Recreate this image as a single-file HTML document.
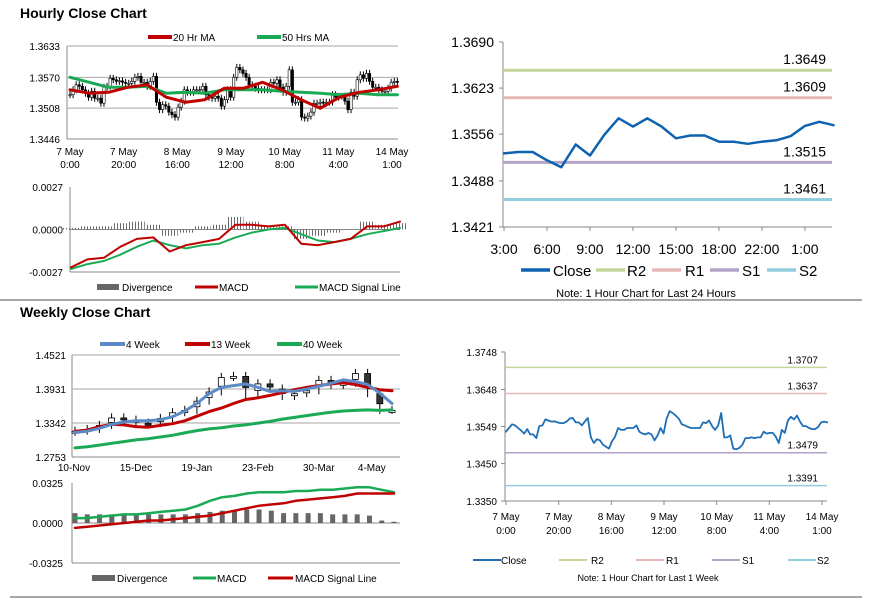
<!DOCTYPE html>
<html><head><meta charset="utf-8">
<style>
html,body{margin:0;padding:0;background:#fff;}
svg{display:block;font-family:"Liberation Sans",Arial,sans-serif;}
</style></head>
<body>
<svg id="root" width="873" height="601" viewBox="0 0 873 601" xmlns="http://www.w3.org/2000/svg">
<defs>
<pattern id="hatch" width="3" height="4" patternUnits="userSpaceOnUse">
<rect x="0" y="0" width="1" height="4" fill="#6a6a6a"/>
</pattern>
</defs>
<rect x="0" y="0" width="873" height="601" fill="#fff"/>
<line x1="0" y1="300" x2="862" y2="300" stroke="#8a8a8a" stroke-width="1.5"/>
<line x1="10" y1="597" x2="862" y2="597" stroke="#8a8a8a" stroke-width="1.5"/>
<text x="20" y="18" font-size="14" font-weight="bold">Hourly Close Chart</text>
<text x="20" y="317" font-size="14" font-weight="bold">Weekly Close Chart</text>
</svg>
<script>
// ---------- DATA ----------
const hourlyClose = [1.3535,1.3545,1.3555,1.3552,1.3545,1.3538,1.3530,1.3542,1.3528,1.3528,1.3518,1.3550,1.3552,1.3568,1.3565,1.3562,1.3563,1.3560,1.3558,1.3558,1.3562,1.3570,1.3572,1.3560,1.3560,1.3552,1.3562,1.3572,1.3520,1.3505,1.3515,1.3512,1.3500,1.3495,1.3490,1.3510,1.3522,1.3545,1.3540,1.3540,1.3545,1.3545,1.3545,1.3552,1.3535,1.3530,1.3528,1.3532,1.3528,1.3512,1.3525,1.3545,1.3530,1.3570,1.3590,1.3585,1.3578,1.3570,1.3555,1.3552,1.3548,1.3545,1.3545,1.3545,1.3545,1.3560,1.3558,1.3565,1.3550,1.3540,1.3552,1.3585,1.3520,1.3520,1.3525,1.3490,1.3488,1.3492,1.3500,1.3518,1.3518,1.3520,1.3518,1.3520,1.3520,1.3535,1.3530,1.3532,1.3532,1.3522,1.3505,1.3540,1.3532,1.3565,1.3575,1.3568,1.3578,1.3562,1.3550,1.3550,1.3545,1.3542,1.3542,1.3548,1.3560,1.3562,1.3560];
const ma20 = [1.3545,1.3538,1.3540,1.3550,1.3555,1.3530,1.3520,1.3525,1.3548,1.3548,1.3560,1.3545,1.3525,1.3508,1.3530,1.3540,1.3545,1.3552];
const ma50 = [1.3570,1.3560,1.3550,1.3550,1.3552,1.3538,1.3540,1.3538,1.3545,1.3545,1.3545,1.3542,1.3540,1.3538,1.3535,1.3538,1.3535,1.3535];
const hMacd = [-0.0024,-0.0019,-0.0018,-0.0011,-0.0006,-0.0005,-0.0014,-0.0010,-0.0008,-0.0006,0.0003,0.0003,0.0002,0.0003,-0.0009,-0.0010,-0.0008,-0.0006,0.0002,0.0002,0.0005];
const hSignal = [-0.0025,-0.0022,-0.0020,-0.0016,-0.0011,-0.0007,-0.0010,-0.0012,-0.0010,-0.0009,-0.0005,-0.0002,0.0000,0.0001,-0.0003,-0.0007,-0.0008,-0.0006,-0.0003,-0.0001,0.0001];
const hDiv = [0.0001,0.0002,0.0002,0.0004,0.0005,0.0003,-0.0004,-0.0002,0.0002,0.0003,0.0008,0.0005,0.0002,0.0002,-0.0006,-0.0004,-0.0002,0.0000,0.0005,0.0003,0.0004];
const hourTickLabels = [["7 May","0:00"],["7 May","20:00"],["8 May","16:00"],["9 May","12:00"],["10 May","8:00"],["11 May","4:00"],["14 May","1:00"]];
const hourTickHours = [0,20,40,60,80,100,120];
const hourYTicks = [1.3633,1.3570,1.3508,1.3446];

const dayClose = [1.3528,1.3530,1.3530,1.3518,1.3508,1.3541,1.3525,1.3555,1.3579,1.3567,1.3579,1.3567,1.3550,1.3554,1.3554,1.3545,1.3545,1.3542,1.3545,1.3547,1.3553,1.3568,1.3574,1.3569];
const dayTickLabels = ["3:00","6:00","9:00","12:00","15:00","18:00","22:00","1:00"];
const dayYTicks = [1.3690,1.3623,1.3556,1.3488,1.3421];
const dayLevels = [1.3649,1.3609,1.3515,1.3461];
const weekLevels = [1.3707,1.3637,1.3479,1.3391];
const levelNames = ["R2","R1","S1","S2"];
const weekYTicksR = [1.3748,1.3648,1.3549,1.3450,1.3350];

const wClose = [1.3200,1.3230,1.3300,1.3430,1.3390,1.3340,1.3330,1.3420,1.3520,1.3560,1.3720,1.3880,1.4130,1.4150,1.3830,1.4020,1.3930,1.3800,1.3850,1.3900,1.4080,1.3990,1.4030,1.4200,1.3850,1.3560,1.3560];
const w4 = [1.318,1.320,1.325,1.332,1.336,1.338,1.338,1.340,1.345,1.355,1.368,1.385,1.396,1.399,1.402,1.396,1.389,1.390,1.389,1.393,1.398,1.403,1.409,1.406,1.401,1.386,1.368];
const w13 = [1.320,1.322,1.328,1.332,1.331,1.328,1.327,1.330,1.333,1.338,1.346,1.354,1.360,1.368,1.375,1.378,1.382,1.387,1.392,1.396,1.399,1.402,1.404,1.401,1.396,1.392,1.390];
const w40 = [1.291,1.293,1.296,1.299,1.302,1.305,1.307,1.310,1.313,1.317,1.321,1.324,1.326,1.329,1.331,1.334,1.337,1.341,1.344,1.347,1.350,1.353,1.355,1.356,1.357,1.356,1.357];
const wMacd = [0.004,0.004,0.005,0.006,0.007,0.007,0.008,0.009,0.010,0.011,0.014,0.018,0.021,0.022,0.024,0.025,0.025,0.025,0.026,0.026,0.027,0.027,0.028,0.029,0.029,0.027,0.025];
const wSignal = [-0.004,-0.003,-0.002,-0.001,0.000,0.001,0.002,0.002,0.003,0.004,0.005,0.006,0.008,0.010,0.012,0.014,0.015,0.016,0.018,0.019,0.020,0.021,0.022,0.024,0.024,0.024,0.024];
const wDiv = [0.008,0.007,0.007,0.007,0.007,0.007,0.007,0.007,0.007,0.007,0.008,0.009,0.010,0.010,0.011,0.011,0.010,0.008,0.008,0.008,0.008,0.007,0.007,0.007,0.006,0.002,0.001];
const weekTickLabels = ["10-Nov","15-Dec","19-Jan","23-Feb","30-Mar","4-May"];
const weekTickIdx = [0,5,10,15,20,25];
const weekYTicks = [1.4521,1.3931,1.3342,1.2753];

// ---------- HELPERS ----------
const NS = "http://www.w3.org/2000/svg";
const root = document.getElementById('root');
function mk(tag, attrs, parent){
  const e = document.createElementNS(NS, tag);
  for (const k in attrs) e.setAttribute(k, attrs[k]);
  (parent||root).appendChild(e);
  return e;
}
function txt(x,y,s,size,anchor,parent){
  const t = mk('text',{x:x,y:y,'font-size':size||11,'text-anchor':anchor||'start',fill:'#000'},parent);
  t.textContent = s; return t;
}
function lin(d0,d1,r0,r1){ return v => r0 + (v-d0)/(d1-d0)*(r1-r0); }
function polyline(pts, color, w, parent){
  return mk('polyline',{points:pts.map(p=>p[0].toFixed(1)+','+p[1].toFixed(1)).join(' '),fill:'none',stroke:color,'stroke-width':w,'stroke-linejoin':'round','stroke-linecap':'round'},parent);
}
function group(){ return mk('g',{}); }
function fmt4(v){ return v.toFixed(4); }

// ---------- HOURLY CANDLE CHART ----------
{
  const g = group();
  
  
  const yTop=46, yBot=139;
  const y = lin(1.3446,1.3633,yBot,yTop);
  const xh = lin(0,120,70,392);
  const totalH = 122;
  mk('line',{x1:67,y1:yTop,x2:67,y2:yBot,stroke:'#888'},g);
  mk('line',{x1:67,y1:yBot,x2:398,y2:yBot,stroke:'#888'},g);
  hourYTicks.forEach(v=>{
    if (v>1.3447) mk('line',{x1:67,y1:y(v),x2:398,y2:y(v),stroke:'#a6a6a6','stroke-width':1},g);
    const t = txt(60,y(v)+4,fmt4(v),10,'end',g);
    
    
  });
  hourTickHours.forEach((h,i)=>{
    const t1 = txt(xh(h),155,hourTickLabels[i][0],10,'middle',g);
    
    
    txt(xh(h),168,hourTickLabels[i][1],10,'middle',g);
  });
  const n = hourlyClose.length;
  hourlyClose.forEach((c,i)=>{
    const o = i>0 ? hourlyClose[i-1] : c;
    const xx = xh(i*totalH/(n-1));
    const hi = Math.max(o,c)+0.0007, lo = Math.min(o,c)-0.0007;
    const w = mk('line',{x1:xx,y1:y(hi),x2:xx,y2:y(lo),stroke:'#000','stroke-width':1},g);
    
    
    const b = mk('rect',{x:xx-1.2,y:y(Math.max(o,c)),width:2.4,height:Math.max(1,Math.abs(y(o)-y(c))),fill:c<o?'#000':'#fff',stroke:'#000','stroke-width':0.6},g);
    
    
  });
  const l50 = polyline(ma50.map((v,i)=>[xh(i*totalH/(ma50.length-1)),y(v)]),'#1aaa55',3,g);
  
  
  const l20 = polyline(ma20.map((v,i)=>[xh(i*totalH/(ma20.length-1)),y(v)]),'#c00000',3,g);
  
  
  mk('line',{x1:148,y1:37,x2:172,y2:37,stroke:'#c00000','stroke-width':4},g);
  const a = txt(173,41,'20 Hr MA',10,'start',g);
  
  
  mk('line',{x1:257,y1:37,x2:281,y2:37,stroke:'#1aaa55','stroke-width':4},g);
  const b2 = txt(282,41,'50 Hrs MA',10,'start',g);
  
  
}

// ---------- HOURLY MACD ----------
{
  const g = group();
  
  
  const y = lin(-0.0027,0.0027,272,187);
  const x = lin(0,hMacd.length-1,71,400);
  mk('line',{x1:70,y1:187,x2:70,y2:272,stroke:'#888'},g);
  mk('line',{x1:70,y1:y(0),x2:400,y2:y(0),stroke:'#888'},g);
  mk('line',{x1:70,y1:272,x2:400,y2:272,stroke:'#888'},g);
  [0.0027,0,-0.0027].forEach(v=>{
    const t = txt(63,y(v)+4,(v<0?'-':'')+Math.abs(v).toFixed(4),10,'end',g);
    
    
  });
  hDiv.forEach((v,i)=>{
    const xx = x(i);
    const r = mk('rect',{x:xx-8,y:Math.min(y(0),y(v)),width:16,height:Math.abs(y(v)-y(0)),fill:'url(#hatch)'},g);
    
    
  });
  const s = polyline(hSignal.map((v,i)=>[x(i),y(v)]),'#1aaa55',2,g);
  
  
  const m = polyline(hMacd.map((v,i)=>[x(i),y(v)]),'#c00000',2,g);
  
  
  mk('rect',{x:97,y:284,width:22,height:6,fill:'#666'},g);
  const l1 = txt(122,291,'Divergence',10,'start',g);
  
  
  mk('line',{x1:195,y1:287,x2:218,y2:287,stroke:'#c00000','stroke-width':3},g);
  const l2 = txt(219,291,'MACD',10,'start',g);
  
  
  mk('line',{x1:295,y1:287,x2:318,y2:287,stroke:'#1aaa55','stroke-width':3},g);
  const l3 = txt(319,291,'MACD Signal Line',10,'start',g);
  
  
}

// ---------- 24 HOUR LINE CHART ----------
const levelColors = ['#c3d69b','#e6b9b8','#b3a2c7','#93cddd'];
{
  const g = group();
  
  
  const y = lin(1.3421,1.3690,227,42);
  const x = lin(0,1,504,504+14.33);
  mk('line',{x1:503,y1:42,x2:503,y2:227,stroke:'#888'},g);
  mk('line',{x1:503,y1:227,x2:832,y2:227,stroke:'#888'},g);
  dayYTicks.forEach(v=>{
    mk('line',{x1:499,y1:y(v),x2:503,y2:y(v),stroke:'#888'},g);
    const t = txt(494,y(v)+5,fmt4(v),14,'end',g);
    
    
  });
  dayTickLabels.forEach((s,i)=>{
    mk('line',{x1:x(i*3),y1:227,x2:x(i*3),y2:231,stroke:'#888'},g);
    const t = txt(x(i*3),254,s,14,'middle',g);
    
    
  });
  dayLevels.forEach((v,i)=>{
    const l = mk('line',{x1:503,y1:y(v),x2:832,y2:y(v),stroke:levelColors[i],'stroke-width':3},g);
    
    
    const t = txt(826,y(v)-6,fmt4(v),14,'end',g);
    
    
  });
  const c = polyline(dayClose.map((v,i)=>[x(i),y(v)]),'#0e63b0',2.5,g);
  
  
  const legs = [['Close','#0e63b0',521,553],['R2',levelColors[0],596,627],['R1',levelColors[1],652,685],['S1',levelColors[2],710,742],['S2',levelColors[3],767,799]];
  legs.forEach(L=>{
    mk('line',{x1:L[2],y1:270,x2:L[2]+29,y2:270,stroke:L[1],'stroke-width':3.5},g);
    const t = txt(L[3],276,L[0],15,'start',g);
    
    
  });
  const note = txt(646,297,'Note: 1 Hour Chart for Last 24 Hours',11,'middle',g);
  
  
}

// ---------- WEEKLY CANDLE CHART ----------
{
  const g = group();
  
  
  const y = lin(1.2753,1.4521,457,355);
  const x = lin(0,wClose.length-1,75,392);
  mk('line',{x1:72,y1:355,x2:72,y2:457,stroke:'#888'},g);
  mk('line',{x1:72,y1:457,x2:400,y2:457,stroke:'#888'},g);
  weekYTicks.forEach(v=>{
    if (v>1.28) mk('line',{x1:72,y1:y(v),x2:400,y2:y(v),stroke:'#a6a6a6'},g);
    const t = txt(66,y(v)+4,fmt4(v),10,'end',g);
    
    
  });
  weekTickIdx.forEach((k,i)=>{
    const t = txt(i===0?74:x(k)+(i===5?-8:0),471,weekTickLabels[i],10,'middle',g);
    
    
  });
  wClose.forEach((c,i)=>{
    const o = i>0 ? wClose[i-1] : c-0.002;
    const xx = x(i);
    const hi = Math.max(o,c)+0.008, lo = Math.min(o,c)-0.006;
    const w = mk('line',{x1:xx,y1:y(hi),x2:xx,y2:y(lo),stroke:'#000','stroke-width':1},g);
    
    
    const b = mk('rect',{x:xx-3,y:y(Math.max(o,c)),width:6,height:Math.max(2,Math.abs(y(o)-y(c))*0.6),fill:c<o?'#333':'#fff',stroke:'#000','stroke-width':0.8},g);
    
    
  });
  const l40 = polyline(w40.map((v,i)=>[x(i),y(v)]),'#1aaa55',3,g);
  
  
  const l13 = polyline(w13.map((v,i)=>[x(i),y(v)]),'#c00000',3,g);
  
  
  const l4 = polyline(w4.map((v,i)=>[x(i),y(v)]),'#5b8ac6',3,g);
  
  
  const legs = [['4 Week','#5b8ac6',100,126],['13 Week','#c00000',185,211],['40 Week','#1aaa55',277,303]];
  legs.forEach(L=>{
    mk('line',{x1:L[2],y1:344,x2:L[2]+25,y2:344,stroke:L[1],'stroke-width':4},g);
    const t = txt(L[3],348,L[0],10,'start',g);
    
    
  });
}

// ---------- WEEKLY MACD ----------
{
  const g = group();
  
  
  const y = lin(-0.0325,0.0325,563,483);
  const x = lin(0,wMacd.length-1,75,394);
  mk('line',{x1:72,y1:483,x2:72,y2:563,stroke:'#888'},g);
  mk('line',{x1:72,y1:y(0),x2:400,y2:y(0),stroke:'#888'},g);
  mk('line',{x1:72,y1:563,x2:400,y2:563,stroke:'#888'},g);
  [0.0325,0,-0.0325].forEach(v=>{
    const t = txt(63,y(v)+4,(v<0?'-':'')+Math.abs(v).toFixed(4),10,'end',g);
    
    
  });
  wDiv.forEach((v,i)=>{
    const r = mk('rect',{x:x(i)-2.5,y:Math.min(y(0),y(v)),width:5,height:Math.abs(y(v)-y(0)),fill:'#666'},g);
    
    
  });
  const m = polyline(wMacd.map((v,i)=>[x(i),y(v)]),'#1aaa55',2.5,g);
  
  
  const s = polyline(wSignal.map((v,i)=>[x(i),y(v)]),'#c00000',2.5,g);
  
  
  mk('rect',{x:92,y:575,width:23,height:6,fill:'#666'},g);
  const l1 = txt(117,582,'Divergence',10,'start',g);
  
  
  mk('line',{x1:193,y1:578,x2:216,y2:578,stroke:'#1aaa55','stroke-width':3},g);
  const l2 = txt(217,582,'MACD',10,'start',g);
  
  
  mk('line',{x1:268,y1:578,x2:293,y2:578,stroke:'#c00000','stroke-width':3},g);
  const l3 = txt(295,582,'MACD Signal Line',10,'start',g);
  
  
}

// ---------- 1 WEEK LINE CHART ----------
{
  const g = group();
  
  
  const y = lin(1.3350,1.3748,501,352);
  const xh = lin(0,120,506,822);
  const n = hourlyClose.length;
  mk('line',{x1:505,y1:352,x2:505,y2:501,stroke:'#888'},g);
  mk('line',{x1:505,y1:501,x2:827,y2:501,stroke:'#888'},g);
  weekYTicksR.forEach(v=>{
    mk('line',{x1:501,y1:y(v),x2:505,y2:y(v),stroke:'#888'},g);
    const t = txt(497,y(v)+4,fmt4(v),10,'end',g);
    
    
  });
  hourTickHours.forEach((h,i)=>{
    mk('line',{x1:xh(h),y1:501,x2:xh(h),y2:505,stroke:'#888'},g);
    const t = txt(xh(h),520,hourTickLabels[i][0],10,'middle',g);
    
    
    txt(xh(h),534,hourTickLabels[i][1],10,'middle',g);
  });
  weekLevels.forEach((v,i)=>{
    const l = mk('line',{x1:505,y1:y(v),x2:827,y2:y(v),stroke:levelColors[i],'stroke-width':1.5},g);
    
    
    const t = txt(818,y(v)-4,fmt4(v),10,'end',g);
    
    
  });
  const c = polyline(hourlyClose.map((v,i)=>[xh(i*122/(n-1)),y(v)]),'#1f6fb5',1.8,g);
  
  
  const legs = [['Close','#1f6fb5',473,501],['R2',levelColors[0],559,591],['R1',levelColors[1],636,666],['S1',levelColors[2],712,742],['S2',levelColors[3],788,817]];
  legs.forEach(L=>{
    mk('line',{x1:L[2],y1:560,x2:L[2]+28,y2:560,stroke:L[1],'stroke-width':2},g);
    const t = txt(L[3],564,L[0],10,'start',g);
    
    
  });
  const note = txt(648,581,'Note: 1 Hour Chart for Last 1 Week',9,'middle',g);
  
  
}
</script>
</body></html>
